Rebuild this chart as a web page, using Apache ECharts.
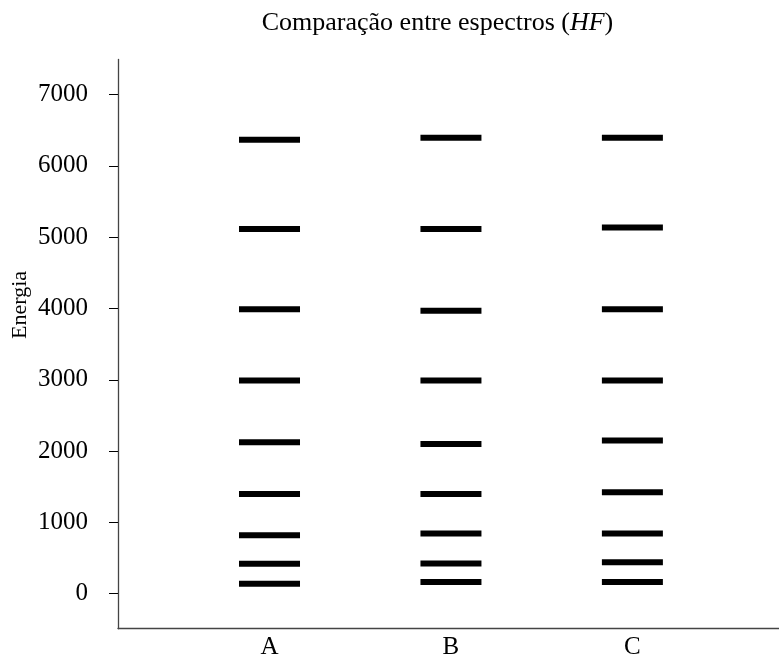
<!DOCTYPE html>
<html>
<head>
<meta charset="utf-8">
<script src="https://cdn.jsdelivr.net/npm/echarts@6/dist/echarts.min.js"></script>
<style>html,body{margin:0;padding:0;background:#fff}#c{width:779px;height:655px}</style>
</head>
<body>
<div id="c"></div>
<script>
const categories = ['A', 'B', 'C'];
const seriesA = [140, 421, 820, 1400, 2125, 2990, 3990, 5112, 6364];
const seriesB = [164, 423, 844, 1400, 2101, 2990, 3966, 5112, 6392];
const seriesC = [164, 442, 844, 1423, 2148, 2990, 3990, 5135, 6392];
const yTicks = [0, 1000, 2000, 3000, 4000, 5000, 6000, 7000];
const xTicks = [0, 1, 2];

const allSeries = [seriesA, seriesB, seriesC];
const FONT = 'Liberation Serif';

const chart = echarts.init(document.getElementById('c'), null, {renderer: 'canvas'});
chart.setOption({
  animation: false,
  backgroundColor: '#fff',
  graphic: [
    {
      type: 'text', x: 437.5, y: 23,
      style: {
        text: '{n|Comparação entre espectros (}{i|HF}{n|)}',
        align: 'center', verticalAlign: 'middle',
        rich: {
          n: {fontFamily: FONT, fontSize: 26, fill: '#000'},
          i: {fontFamily: FONT, fontSize: 26, fontStyle: 'italic', fill: '#000'}
        }
      }
    },
    {
      type: 'text', x: 20, y: 305, rotation: Math.PI / 2,
      style: {text: 'Energia', fontFamily: FONT, fontSize: 22, fill: '#000', align: 'center', verticalAlign: 'middle'}
    }
  ],
  grid: {left: 118, right: 0, top: 59.5, bottom: 26.3, outerBoundsMode: 'none', containLabel: false},
  xAxis: {
    type: 'value', min: -0.835, max: 2.808,
    axisLine: {show: true, onZero: false, lineStyle: {color: '#444', width: 1.3}},
    axisTick: {show: false},
    splitLine: {show: false},
    axisLabel: {
      customValues: xTicks, margin: 6,
      formatter: v => categories[Math.round(v)],
      fontFamily: FONT, fontSize: 25, color: '#000'
    }
  },
  yAxis: {
    type: 'value', min: -490, max: 7490,
    axisLine: {show: true, onZero: false, lineStyle: {color: '#444', width: 1.3}},
    axisTick: {show: true, customValues: yTicks, length: 9, lineStyle: {color: '#000', width: 1}},
    splitLine: {show: false},
    axisLabel: {customValues: yTicks, margin: 30, formatter: v => String(v), fontFamily: FONT, fontSize: 25, color: '#000'}
  },
  series: allSeries.map((vals, i) => ({
    type: 'scatter',
    name: categories[i],
    symbol: 'rect',
    symbolSize: [61, 6],
    itemStyle: {color: '#000', opacity: 1},
    data: vals.map(v => [i, v])
  }))
});
</script>
</body>
</html>
